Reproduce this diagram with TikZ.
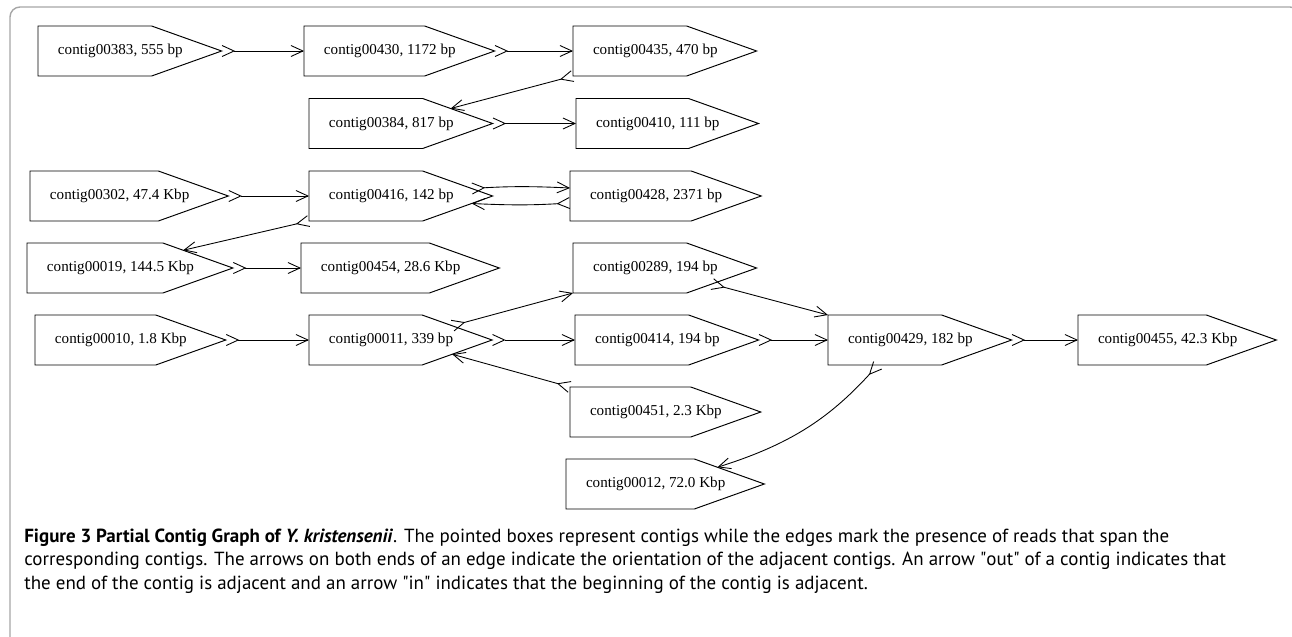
\documentclass[tikz,border=0pt]{standalone}
\usepackage{fontspec}
\setmainfont{PT Sans}
\newfontfamily\contigfont{Liberation Serif}
\usepackage{tikz}
\usetikzlibrary{positioning}
\usetikzlibrary{arrows.meta,calc}

\begin{document}
\begin{tikzpicture}[x=0.02cm,y=-0.02cm,
    >={Straight Barb[length=0.24cm,width=0.22cm]},
    contig/.style={font=\contigfont\fontsize{8.6pt}{10pt}\selectfont,anchor=west,
        inner xsep=0.4cm,inner ysep=0pt,outer sep=0pt,minimum height=1cm,
        execute at end node={\hspace{0.38cm}},
        append after command={\pgfextra{
            \edef\thisctg{\tikzlastnode}
            \coordinate (\thisctg-ne) at ([xshift=-1.4cm]\thisctg.north east);
            \coordinate (\thisctg-se) at ([xshift=-1.4cm]\thisctg.south east);
            \draw[line width=0.55pt] (\thisctg.north west) -- (\thisctg-ne) -- (\thisctg.east)
                -- (\thisctg-se) -- (\thisctg.south west) -- cycle;}}},
    link/.style={>->,line width=0.5pt}]
	\clip (0,0) rectangle (1292,636);
	\draw[gray!70,line width=0.8pt,rounded corners=0.2cm] (10,660) -- (10,7) -- (1300,7) -- (1300,660);
	% contigs, row by row
	\node[contig] (c383) at (38,51) {contig00383, 555 bp};
	\node[contig] (c430) at (304,51) {contig00430, 1172 bp};
	\node[contig] (c435) at (573,51) {contig00435, 470 bp};
	\node[contig] (c384) at (309,123.5) {contig00384, 817 bp};
	\node[contig] (c410) at (576,123.5) {contig00410, 111 bp};
	\node[contig] (c302) at (30,196) {contig00302, 47.4 Kbp};
	\node[contig] (c416) at (309,196) {contig00416, 142 bp};
	\node[contig] (c428) at (570,196) {contig00428, 2371 bp};
	\node[contig] (c019) at (27,268) {contig00019, 144.5 Kbp};
	\node[contig] (c454) at (301,268) {contig00454, 28.6 Kbp};
	\node[contig] (c289) at (573,268) {contig00289, 194 bp};
	\node[contig] (c010) at (35,340) {contig00010, 1.8 Kbp};
	\node[contig] (c011) at (309,340) {contig00011, 339 bp};
	\node[contig] (c414) at (575,340) {contig00414, 194 bp};
	\node[contig] (c429) at (828,340) {contig00429, 182 bp};
	\node[contig] (c455) at (1078,340) {contig00455, 42.3 Kbp};
	\node[contig] (c451) at (570,412) {contig00451, 2.3 Kbp};
	\node[contig] (c012) at (566,484) {contig00012, 72.0 Kbp};
    \path[link]
        (c383.east) edge (c430.west)
        (c430.east) edge (c435.west)
        (c435.south west) edge ($(c384-ne)!0.4!(c384.east)$)
        (c384.east) edge (c410.west)
        (c302.east) edge (c416.west)
        ($(c416.east)!0.3!(c416-ne)$) edge[bend left=3] ([yshift=0.16cm]c428.west)
        ([yshift=-0.14cm]c428.west) edge[bend left=3] ($(c416.east)!0.3!(c416-se)$)
        (c416.south west) edge ($(c019-ne)!0.29!(c019.east)$)
        (c019.east) edge (c454.west)
        (c010.east) edge (c011.west)
        ($(c011-ne)!0.43!(c011.east)$) edge (c289.south west)
        (c011.east) edge (c414.west)
        (c451.north west) edge ($(c011-se)!0.43!(c011.east)$)
        ($(c289-se)!0.36!(c289.east)$) edge (c429.north west)
        (c414.east) edge (c429.west)
        (c429.east) edge (c455.west)
        ([xshift=1cm]c429.south west) edge[bend left=15] ($(c012-ne)!0.33!(c012.east)$);
	\node[anchor=base west,inner sep=0pt,align=left,font=\fontsize{10.8pt}{13.1pt}\selectfont] (caption) at (24,589)
	    {\textbf{Figure 3 Partial Contig Graph of \textit{Y. kristensenii}}. The pointed boxes represent contigs while the edges mark the presence of reads that span the\\
	    corresponding contigs. The arrows on both ends of an edge indicate the orientation of the adjacent contigs. An arrow \textquotedbl out\textquotedbl{} of a contig indicates that\\
	    the end of the contig is adjacent and an arrow \textquotedbl in\textquotedbl{} indicates that the beginning of the contig is adjacent.};
\end{tikzpicture}
\end{document}
